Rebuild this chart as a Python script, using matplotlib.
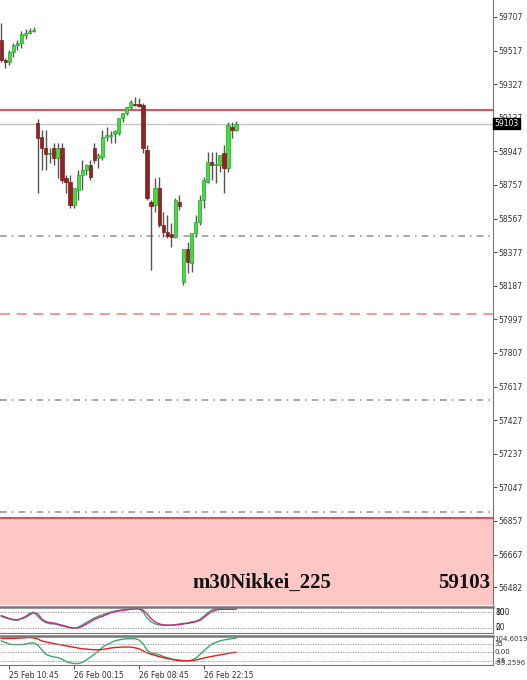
import numpy as np
import matplotlib
matplotlib.use('Agg')
import matplotlib.pyplot as plt

# m30 Nikkei_225 candles (open, high, low, close)
opens  = [59577,59464,59453,59509,59549,59560,59605,59617,59626,
          59108,59028,58966,58932,58966,58910,58966,58797,58774,58644,58729,58814,58842,58870,58966,
          58910,58915,59028,59034,59046,59051,59136,59164,59198,59215,59215,59209,58955,58661,58644,
          58740,58531,58491,58480,58463,58661,58208,58395,58316,58485,58548,58672,58774,58887,58870,
          58870,58938,58853,59085,59068]
highs  = [59673,59475,59520,59560,59577,59628,59640,59645,59650,
          59130,59068,59068,58966,58994,58994,58994,58814,58814,58672,58842,58898,58876,58898,58994,
          58938,59068,59085,59062,59068,59136,59164,59198,59238,59255,59250,59221,58983,58672,58797,
          58802,58604,58587,58542,58683,58700,58395,58435,58485,58587,58700,58802,58944,58944,58944,
          58927,58983,59113,59113,59120]
lows   = [59453,59419,59436,59480,59520,59531,59580,59611,59620,
          58712,58842,58842,58880,58870,58797,58768,58712,58627,58627,58672,58729,58814,58785,58882,
          58853,58898,59006,58994,58994,59040,59113,59153,59187,59204,59198,58938,58672,58276,58604,
          58520,58463,58457,58406,58457,58616,58191,58259,58265,58463,58531,58627,58768,58785,58768,
          58830,58712,58830,59023,59062]
closes = [59464,59453,59509,59549,59560,59611,59617,59628,59633,
          59023,58966,58932,58938,58910,58966,58785,58774,58644,58740,58814,58842,58870,58802,58898,
          58927,59028,59040,59040,59062,59136,59164,59198,59226,59209,59204,58966,58683,58638,58740,
          58531,58491,58469,58463,58672,58638,58395,58322,58485,58548,58672,58785,58887,58870,58876,
          58927,58853,59096,59068,59103]

# stochastic (main / signal)
stoch_main = [64,59,54,50,49,56,64,76,80,64,49,40,36,35,32,27,24,20,18,22,31,40,49,58,64,70,76,81,84,
              87,89,91,92,93,93,82,58,43,35,31,30,30,30,32,35,37,38,43,45,52,64,78,88,93,94,92,91,92,92]
stoch_sig  = [67,61,55,52,50,55,60,70,78,74,54,44,40,38,34,30,26,21,19,19,26,34,43,52,59,64,71,77,81,
              85,87,89,91,93,93,88,74,55,43,35,31,30,30,31,32,35,37,40,43,48,59,72,82,88,91,91,91,92,92]

# lower oscillator
osc_green = [46,40,33,31,31,31,33,37,38,30,10,-8,-15,-19,-22,-28,-38,-43,-46,-46,-42,-32,-20,-8,5,20,
             30,38,46,50,53,55,55,55,50,35,8,-2,-6,-10,-17,-22,-27,-30,-32,-34,-35,-33,-25,-10,5,20,
             33,40,46,50,53,55,57]
osc_red   = [56,56,56,56,57,58,59,60,58,54,46,42,39,35,32,29,26,23,20,17,14,13,11,10,10,11,14,17,19,
             20,21,21,21,18,14,6,-3,-8,-13,-18,-22,-26,-29,-32,-34,-35,-35,-34,-32,-28,-24,-20,-17,
             -14,-11,-8,-5,-2,0]

price_ticks = [59707,59517,59327,59137,58947,58757,58567,58377,58187,57997,57807,57617,57427,57237,
               57047,56857,56667,56482]
date_pos = [2, 18, 34, 50]
date_labels = ['25 Feb 10:45', '26 Feb 00:15', '26 Feb 08:45', '26 Feb 22:15']

last_price = 59103
resist = 59182
support = 56876
dashdot_levels = [58470, 57543, 56910]
dashed_level = 58029

W, H = 527, 680
fig = plt.figure(figsize=(W/100, H/100), dpi=100)
fig.patch.set_facecolor('white')

xl = (-0.3, 493/4.05 - 0.3)
ax = fig.add_axes([0, 1-605/H, 493/W, 605/H])
ax1 = fig.add_axes([0, 1-633/H, 493/W, 26/H])
ax2 = fig.add_axes([0, 1-665/H, 493/W, 29/H])

idx = np.arange(len(opens))
o = np.array(opens); c = np.array(closes)
up = c >= o
body_lo = np.minimum(o, c)
body_h = np.maximum(np.abs(c - o), 4)

ax.vlines(idx, lows, highs, color='#555555', lw=1, zorder=2)
ax.bar(idx[up], body_h[up], bottom=body_lo[up], width=0.8, color='#3de03d',
       edgecolor='#2aa02a', lw=0.5, zorder=3)
ax.bar(idx[~up], body_h[~up], bottom=body_lo[~up], width=0.8, color='#8e2424',
       edgecolor='#7a1c1c', lw=0.5, zorder=3)

ylo, yhi = 56382, 59803
ax.axhspan(ylo, support, color='#ffc6c6', zorder=0)
ax.axhline(support, color='#e0505a', lw=1.5, zorder=1)
ax.axhline(resist, color='#e8505b', lw=1.5, zorder=1)
ax.axhline(last_price, color='#c4c4c4', lw=1, zorder=1)
for lv in dashdot_levels:
    ax.axhline(lv, color='#999999', lw=1.2, ls=(0, (4, 3, 1, 3)), zorder=1)
ax.axhline(dashed_level, color='#f08a8a', lw=1.2, ls=(0, (6, 4)), zorder=1)

ax.set_xlim(xl)
ax.set_ylim(ylo, yhi)
ax.set_xticks([])
ax.yaxis.tick_right()
ax.set_yticks(price_ticks)
ax.set_yticklabels([str(t) for t in price_ticks])
ax.tick_params(axis='y', labelsize=5.5, length=3, color='#555555', labelcolor='#333333', pad=1)
for s in ['left', 'top', 'bottom']:
    ax.spines[s].set_visible(False)
ax.spines['right'].set_color('#777777')

ax.text(1.003, last_price, str(last_price), transform=ax.get_yaxis_transform(), fontsize=5.5,
        color='white', va='center', ha='left',
        bbox=dict(boxstyle='square,pad=0.15', fc='black', ec='black'), zorder=10, clip_on=False)

ax.text(262/493, 12/605, 'm30Nikkei_225', transform=ax.transAxes, fontsize=15, fontweight='bold',
        family='Liberation Serif', color='#111111', ha='center', va='bottom')
ax.text(490/493, 12/605, str(last_price), transform=ax.transAxes, fontsize=15, fontweight='bold',
        family='Liberation Serif', color='#111111', ha='right', va='bottom')

# stochastic panel
ax1.plot(idx, stoch_main, color='#3aaa6a', lw=1)
ax1.plot(idx, stoch_sig, color='#d0208a', lw=1)
for lv in [80, 20]:
    ax1.axhline(lv, color='#888888', lw=0.6, ls=(0, (1.5, 1.5)))
ax1.set_ylim(0, 100)
ax1.set_xlim(xl)
for lab, yv in [('100', 80), ('80', 80), ('20', 20), ('0', 20)]:
    ax1.text(1.005, yv, lab, transform=ax1.get_yaxis_transform(), fontsize=5.5,
             color='#333333', va='center', ha='left', clip_on=False)

# lower oscillator panel
ax2.plot(idx, osc_green, color='#3aaa6a', lw=1)
ax2.plot(idx, osc_red, color='#e02020', lw=1)
for lv in [35, 0, -35]:
    ax2.axhline(lv, color='#888888', lw=0.6, ls=(0, (1.5, 1.5)))
ax2.set_ylim(-52, 66)
ax2.set_xlim(xl)
for lab, yv in [('104.6019', 52), ('35', 35), ('0.00', 0), ('-35', -35), ('-55.2596', -42)]:
    ax2.text(1.003, yv, lab, transform=ax2.get_yaxis_transform(), fontsize=5.0,
             color='#333333', va='center', ha='left', clip_on=False)

for a in [ax1, ax2]:
    a.set_yticks([])
    for s in a.spines.values():
        s.set_color('#777777')
    a.spines['left'].set_visible(False)
    a.spines['top'].set_linewidth(1.8)
ax1.set_xticks([])
ax2.set_xticks(date_pos)
ax2.set_xticklabels(date_labels, ha='left')
ax2.tick_params(axis='x', labelsize=5.5, length=3, color='#555555', labelcolor='#333333', pad=1)

fig.savefig('out.png', dpi=100)
